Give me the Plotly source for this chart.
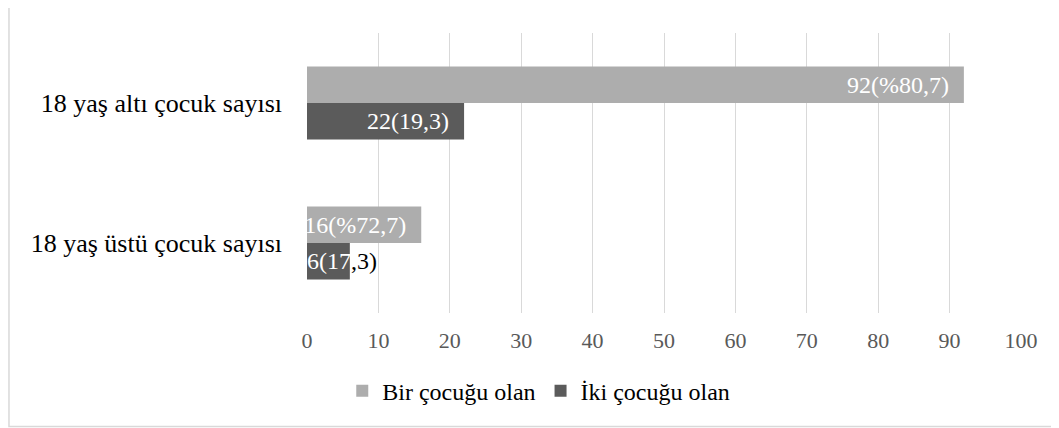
import plotly.graph_objects as go

# chart data
categories = ["18 yaş altı çocuk sayısı", "18 yaş üstü çocuk sayısı"]
bir_cocuk = [92, 16]
iki_cocuk = [22, 6]
bir_labels = ["92(%80,7)", "16(%72,7)"]
iki_labels = ["22(19,3)", "6(17,3)"]
x_ticks = [0, 10, 20, 30, 40, 50, 60, 70, 80, 90, 100]

FONT = "Liberation Serif, Times New Roman, serif"
LIGHT = "#adadad"
DARK = "#5b5b5b"
PAD = "\u00a0" * 2
BARGAP = 0.48

fig = go.Figure()

fig.add_trace(go.Bar(
    name="Bir çocuğu olan",
    y=categories,
    x=bir_cocuk,
    orientation="h",
    marker=dict(color=LIGHT, line=dict(width=0)),
    text=[lbl + PAD for lbl in bir_labels],
    textposition="inside",
    insidetextanchor="end",
    constraintext="none",
    textfont=dict(family=FONT, size=24, color="#ffffff"),
))

# the small bar can't hold its label, so it is drawn as an annotation below
fig.add_trace(go.Bar(
    name="İki çocuğu olan",
    y=categories,
    x=iki_cocuk,
    orientation="h",
    marker=dict(color=DARK, line=dict(width=0)),
    text=[iki_labels[0] + PAD, ""],
    textposition="inside",
    insidetextanchor="end",
    constraintext="none",
    textfont=dict(family=FONT, size=24, color="#ffffff"),
))

# label of the short dark bar, white over the bar, black past it
half_bar = (1 - BARGAP) / 4
fig.add_annotation(
    x=0,
    y=1 + half_bar,
    xref="x",
    yref="y",
    text='<span style="color:#ffffff">6(17</span>,3)',
    showarrow=False,
    xanchor="left",
    yanchor="middle",
    xshift=-2,
    font=dict(family=FONT, size=24, color="#000000"),
)

# light frame round the whole chart
fig.add_shape(
    type="rect",
    xref="paper",
    yref="paper",
    x0=-0.4174,
    x1=1.0490,
    y0=-0.405,
    y1=1.095,
    line=dict(color="#d9d9d9", width=1.5),
    fillcolor="rgba(0,0,0,0)",
    layer="below",
)

fig.update_layout(
    width=1051,
    height=420,
    template="plotly_white",
    paper_bgcolor="#ffffff",
    plot_bgcolor="#ffffff",
    barmode="group",
    bargap=BARGAP,
    bargroupgap=0,
    margin=dict(l=299, r=38, t=25, b=115, autoexpand=False),
    font=dict(family=FONT, color="#000000"),
    showlegend=True,
    legend=dict(
        orientation="h",
        xref="container",
        yref="container",
        x=0.505,
        y=0.088,
        xanchor="center",
        yanchor="middle",
        font=dict(family=FONT, size=24, color="#000000"),
        itemwidth=30,
        tracegroupgap=0,
    ),
)

fig.update_xaxes(
    range=[0, 100],
    tickvals=x_ticks,
    showgrid=True,
    gridcolor="#d9d9d9",
    gridwidth=1,
    zeroline=False,
    showline=False,
    ticks="",
    tickfont=dict(family=FONT, size=22, color="#595959"),
    ticklabelstandoff=12,
)

fig.update_yaxes(
    autorange="reversed",
    showgrid=False,
    zeroline=False,
    showline=False,
    ticks="",
    tickfont=dict(family=FONT, size=26, color="#000000"),
    ticklabelstandoff=24,
)

fig.write_html("out.html")
